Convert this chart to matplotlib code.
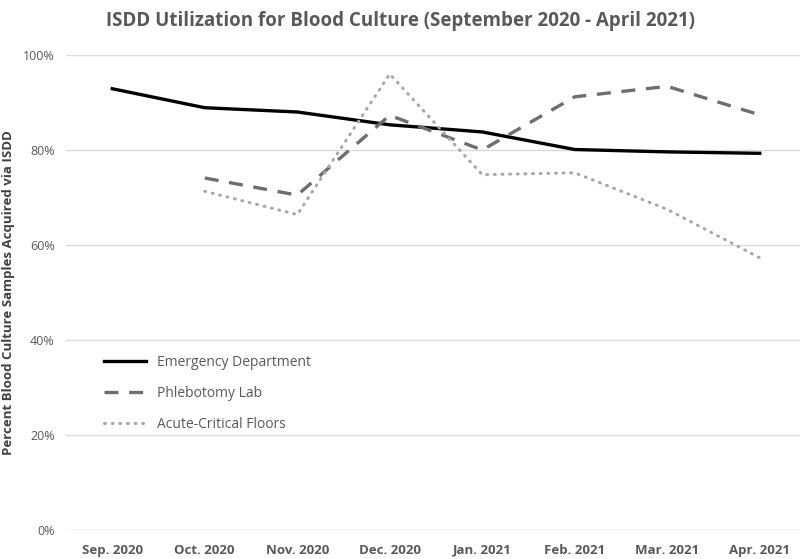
import matplotlib.pyplot as plt
from matplotlib.ticker import PercentFormatter

months = ["Sep. 2020", "Oct. 2020", "Nov. 2020", "Dec. 2020",
          "Jan. 2021", "Feb. 2021", "Mar. 2021", "Apr. 2021"]
emergency = [0.929, 0.889, 0.880, 0.853, 0.838, 0.801, 0.796, 0.793]
# no Sep. value for the two other units
phlebotomy = [None, 0.741, 0.705, 0.873, 0.800, 0.912, 0.934, 0.874]
acute = [None, 0.713, 0.664, 0.960, 0.748, 0.752, 0.675, 0.573]

grey = "#595959"
plt.rcParams['font.family'] = ['Open Sans', 'DejaVu Sans']

fig = plt.figure(figsize=(8, 5.59), dpi=100)
ax = fig.add_axes([0.0825, 0.052, 0.925, 0.8496])

x = list(range(len(months)))
px = x[1:]
ax.plot(x, emergency, color="black", lw=2.4, label="Emergency Department",
        solid_joinstyle="round")
ax.plot(px, phlebotomy[1:], color="#6e6e6e", lw=2.4, linestyle=(0, (4.2, 3.2)),
        label="Phlebotomy Lab")
ax.plot(px, acute[1:], color="#a8a8a8", lw=2.2, linestyle=(0, (0.3, 2.2)),
        dash_capstyle="round", label="Acute-Critical Floors")

ax.set_ylim(0, 1)
ax.set_xlim(-0.5, 7.5)
ax.set_yticks([0, 0.2, 0.4, 0.6, 0.8, 1.0])
ax.yaxis.set_major_formatter(PercentFormatter(1.0, decimals=0))
ax.grid(axis="y", color="#d9d9d9", lw=1)
ax.set_axisbelow(True)
for s in ax.spines.values():
    s.set_visible(False)
ax.tick_params(length=0)
ax.tick_params(axis="y", labelsize=9, labelcolor=grey, pad=8)
ax.set_xticks(x)
ax.set_xticklabels(months, fontsize=9.5, fontweight="bold", color=grey)
ax.tick_params(axis="x", pad=10)

ax.set_ylabel("Percent Blood Culture Samples Acquired via ISDD",
              fontsize=9.5, fontweight="bold", color="#404040", labelpad=6)
fig.text(0.5, 0.963, "ISDD Utilization for Blood Culture (September 2020 - April 2021)",
         ha="center", va="center", fontsize=13.5, fontweight="bold", color=grey)

ax.legend(loc="upper left", bbox_to_anchor=(0.035, 0.395), frameon=False,
          fontsize=10, labelcolor=grey, handlelength=3.0, labelspacing=1.15)

fig.savefig("out.png", dpi=100)
